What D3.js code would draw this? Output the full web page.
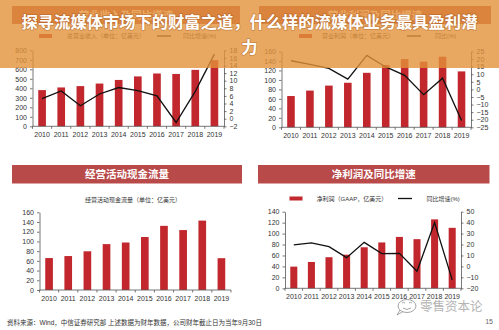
<!DOCTYPE html>
<html>
<head>
<meta charset="utf-8">
<script src="https://cdn.jsdelivr.net/npm/d3@7/dist/d3.min.js"></script>
<style>
  html, body { margin: 0; padding: 0; background: #ffffff; }
  svg { display: block; }
  text { font-family: "Liberation Sans", "Noto Sans CJK SC", sans-serif; }
</style>
</head>
<body>
<svg id="chart" width="499" height="330"></svg>
<script>
// Disney fiscal-year figures, 亿美元 / %
const years = ["2010", "2011", "2012", "2013", "2014", "2015", "2016", "2017", "2018", "2019"];

const revenue = [381, 409, 423, 450, 488, 525, 556, 551, 594, 696];
const revenueGrowth = [5.3, 7.3, 3.4, 6.5, 8.2, 7.4, 6.0, -1.0, 7.2, 17.0];

const opIncome = [66, 77.5, 88, 94, 115, 131.5, 144, 138.5, 149, 118];
const opIncomeGrowth = [18.9, 16.5, 13.8, 6.8, 22.4, 14.8, 9.3, -3.5, 7.4, -20.5];

const cashFlow = [65.8, 69.9, 79.7, 94.5, 97.8, 109.1, 132.1, 123.4, 142.9, 65.5];

const netIncome = [39.6, 48.1, 56.8, 61.4, 75.0, 83.8, 93.9, 89.8, 126.0, 110.5];
const netIncomeGrowth = [19.6, 21.5, 18.0, 8.0, 22.0, 11.7, 12.0, -4.4, 40.0, -12.3];

const leftTicks1 = [0, 100, 200, 300, 400, 500, 600, 700, 800];
const rightTicks1 = [-2, 0, 2, 4, 6, 8, 10, 12, 14, 16, 18];
const leftTicks2 = [0, 20, 40, 60, 80, 100, 120, 140, 160];
const rightTicks2 = [-25, -20, -15, -10, -5, 0, 5, 10, 15, 20, 25];
const leftTicks3 = [0, 20, 40, 60, 80, 100, 120, 140, 160];
const leftTicks4 = [0, 20, 40, 60, 80, 100, 120, 140];
const rightTicks4 = [-20, -10, 0, 10, 20, 30, 40, 50];

const mainTitle = ["探寻流媒体市场下的财富之道，什么样的流媒体业务最具盈利潜", "力"];
const source = "资料来源：Wind，中信证券研究部 上述数据为财年数据，公司财年截止日为当年9月30日";

const BAR = "#c1272d";
const PANEL = "#b94a4a";
const INK = "#333333";

const svg = d3.select("#chart");

// Section header band with white bold caption
function header(x0, x1, y0, y1, label) {
  svg.append("rect").attr("x", x0).attr("y", y0)
    .attr("width", x1 - x0).attr("height", y1 - y0).attr("fill", PANEL);
  svg.append("text").attr("x", (x0 + x1) / 2).attr("y", (y0 + y1) / 2 + 4)
    .attr("text-anchor", "middle").attr("fill", "#fff")
    .attr("font-family", "Noto Sans CJK SC").attr("font-weight", 700)
    .attr("font-size", 10.5).text(label);
}

// Legend: bar swatch + label, optional line swatch + label
function legend(y, barX, barLabelX, barLabel, lineX, lineLabelX, lineLabel) {
  const g = svg.append("g").attr("font-family", "Noto Sans CJK SC")
    .attr("font-size", 6).attr("fill", INK);
  g.append("rect").attr("x", barX).attr("y", y - 2).attr("width", 13).attr("height", 4).attr("fill", BAR);
  g.append("text").attr("x", barLabelX).attr("y", y + 2).text(barLabel);
  if (lineLabel) {
    g.append("line").attr("x1", lineX).attr("x2", lineX + 14).attr("y1", y).attr("y2", y)
      .attr("stroke", "#111").attr("stroke-width", 1.3);
    g.append("text").attr("x", lineLabelX).attr("y", y + 2).text(lineLabel);
  }
}

// Bar + optional growth line with dual axes
function combo(cfg) {
  const x = d3.scaleBand().domain(years).range([cfg.x0, cfg.x1]).paddingInner(0.6).paddingOuter(0.3);
  const yL = d3.scaleLinear().domain(cfg.leftDomain).range([cfg.yBottom, cfg.yTop]);
  const g = svg.append("g");

  g.selectAll("rect.bar").data(cfg.bars).join("rect")
    .attr("class", "bar")
    .attr("x", (d, i) => x(years[i]))
    .attr("width", x.bandwidth())
    .attr("y", d => yL(d))
    .attr("height", d => yL(0) - yL(d))
    .attr("fill", BAR);

  const axisStyle = sel => {
    sel.selectAll("path,line").attr("stroke", "#555").attr("stroke-width", 0.8);
    sel.selectAll("text").attr("fill", INK).attr("font-size", 7).attr("font-family", "Liberation Sans");
  };

  g.append("g").attr("transform", `translate(${cfg.x0},0)`)
    .call(d3.axisLeft(yL).tickValues(cfg.leftTicks).tickSize(2.5).tickSizeOuter(0).tickPadding(3))
    .call(axisStyle);

  // category axis: baseline with ticks at band edges
  const xa = g.append("g");
  xa.append("line").attr("x1", cfg.x0).attr("x2", cfg.x1)
    .attr("y1", yL(cfg.leftDomain[0])).attr("y2", yL(cfg.leftDomain[0]))
    .attr("stroke", "#555").attr("stroke-width", 0.8);
  const step = x.step();
  xa.selectAll("line.t").data(d3.range(years.length + 1)).join("line")
    .attr("class", "t")
    .attr("x1", i => cfg.x0 + i * (cfg.x1 - cfg.x0) / years.length)
    .attr("x2", i => cfg.x0 + i * (cfg.x1 - cfg.x0) / years.length)
    .attr("y1", yL(cfg.leftDomain[0])).attr("y2", yL(cfg.leftDomain[0]) + 2.5)
    .attr("stroke", "#555").attr("stroke-width", 0.8);
  xa.selectAll("text").data(years).join("text")
    .attr("x", d => x(d) + x.bandwidth() / 2)
    .attr("y", yL(cfg.leftDomain[0]) + 10.5)
    .attr("text-anchor", "middle").attr("font-size", 7).attr("fill", INK)
    .text(d => d);

  if (cfg.line) {
    const yR = d3.scaleLinear().domain(cfg.rightDomain).range([cfg.yBottom, cfg.yTop]);
    g.append("g").attr("transform", `translate(${cfg.x1},0)`)
      .call(d3.axisRight(yR).tickValues(cfg.rightTicks).tickSize(2.5).tickSizeOuter(0).tickPadding(3))
      .call(axisStyle);
    const ln = d3.line()
      .x((d, i) => x(years[i]) + x.bandwidth() / 2)
      .y(d => yR(d));
    g.append("path").datum(cfg.line).attr("d", ln)
      .attr("fill", "none").attr("stroke", "#111").attr("stroke-width", 1.3)
      .attr("stroke-linejoin", "miter");
  }
}

// ---- top-left: revenue
header(12, 240, 6, 24, "营业收入及同比增速");
legend(36, 39, 67, "总营业收入（单位：亿美元）", 157, 183, "同比增速(%)");
combo({
  x0: 32.5, x1: 224, yTop: 50.3, yBottom: 126.3,
  bars: revenue, leftDomain: [0, 800], leftTicks: leftTicks1,
  line: revenueGrowth, rightDomain: [-2, 18], rightTicks: rightTicks1
});

// ---- top-right: operating income
header(259, 491, 6, 24, "营业利润及同比增速");
legend(36, 299, 322, "营业利润（单位：亿美元）", 407, 435, "同比(%)");
combo({
  x0: 281.5, x1: 471, yTop: 51.5, yBottom: 127.3,
  bars: opIncome, leftDomain: [0, 160], leftTicks: leftTicks2,
  line: opIncomeGrowth, rightDomain: [-25, 25], rightTicks: rightTicks2
});

// ---- bottom-left: operating cash flow
header(12, 242, 165, 183.5, "经营活动现金流量");
svg.append("text").attr("x", 133).attr("y", 201.5).attr("text-anchor", "middle")
  .attr("font-family", "Noto Sans CJK SC").attr("font-size", 6).attr("fill", INK)
  .text("经营活动现金流量（单位：亿美元）");
combo({
  x0: 39.5, x1: 231, yTop: 212.3, yBottom: 290,
  bars: cashFlow, leftDomain: [0, 160], leftTicks: leftTicks3
});

// ---- bottom-right: net income
header(258, 489.5, 165, 183.5, "净利润及同比增速");
legend(198.5, 289.5, 316.5, "净利润（GAAP，亿美元）", 398, 426.5, "同比增速(%)");
combo({
  x0: 285, x1: 461, yTop: 211.7, yBottom: 288.3,
  bars: netIncome, leftDomain: [0, 140], leftTicks: leftTicks4,
  line: netIncomeGrowth, rightDomain: [-20, 50], rightTicks: rightTicks4
});

// ---- footer
svg.append("text").attr("x", 7).attr("y", 324.5)
  .attr("font-family", "Noto Sans CJK SC").attr("font-size", 6.5).attr("fill", INK)
  .text(source);
svg.append("text").attr("x", 493).attr("y", 323.5).attr("text-anchor", "end")
  .attr("font-size", 7).attr("fill", "#666").text("15");

// account mark
const wm = svg.append("g").attr("fill", "none").attr("stroke", "#9a9a9a").attr("stroke-width", 0.9);
wm.append("ellipse").attr("cx", 407).attr("cy", 306).attr("rx", 9).attr("ry", 6.5);
wm.append("path").attr("d", "M400,310 L397,315 L403,311.5");
wm.append("path").attr("d", "M402,303 q1.5,-1.5 3,0 M409,303 q1.5,-1.5 3,0 M403,308 q4,3 8,0");
svg.append("text").attr("x", 420).attr("y", 311)
  .attr("font-family", "Noto Sans CJK SC").attr("font-size", 12.5)
  .attr("fill", "#b4b4b4").text("零售资本论");

// ---- title banner across the top
svg.append("rect").attr("x", 0).attr("y", 0).attr("width", 499).attr("height", 68)
  .attr("fill", "rgb(226,146,58)").attr("fill-opacity", 0.8);
svg.selectAll("text.title").data(mainTitle).join("text")
  .attr("class", "title")
  .attr("x", 249.5).attr("y", (d, i) => 28 + i * 24.5)
  .attr("text-anchor", "middle")
  .attr("font-family", "Noto Sans CJK SC").attr("font-weight", 700)
  .attr("font-size", 16.3).attr("fill", "#ffffff")
  .attr("stroke", "rgba(140,70,20,0.35)").attr("stroke-width", 1.6)
  .attr("paint-order", "stroke")
  .text(d => d);
</script>
</body>
</html>
